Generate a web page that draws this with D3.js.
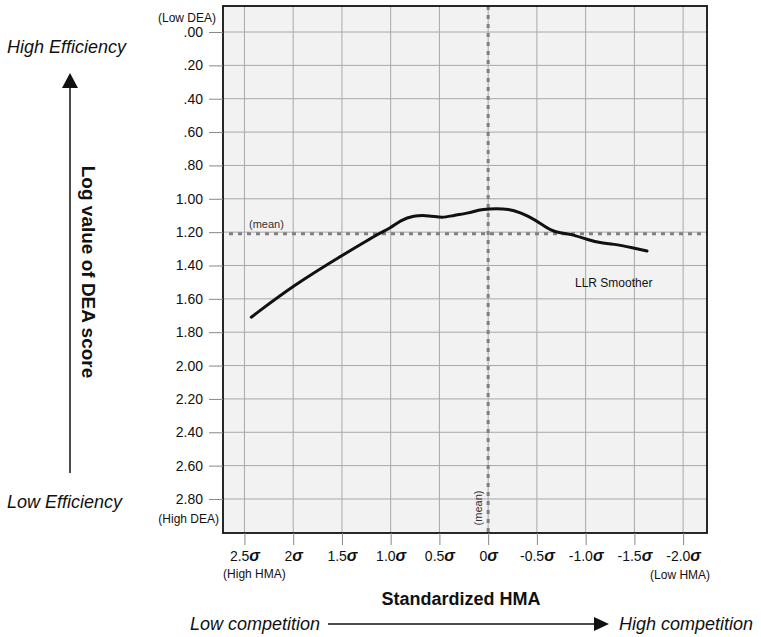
<!DOCTYPE html>
<html>
<head>
<meta charset="utf-8">
<script src="https://cdn.jsdelivr.net/npm/d3@7"></script>
<style>
  body { margin: 0; background: #fff; }
  svg { display: block; font-family: "Liberation Sans", Arial, sans-serif; }
</style>
</head>
<body>
<div id="chart"></div>
<script>
// Data
const sigmaTicks = [2.5, 2, 1.5, 1.0, 0.5, 0, -0.5, -1.0, -1.5, -2.0];
const sigmaTickLabels = ['2.5', '2', '1.5', '1.0', '0.5', '0', '-0.5', '-1.0', '-1.5', '-2.0'];
const deaTicks = [0, 0.2, 0.4, 0.6, 0.8, 1.0, 1.2, 1.4, 1.6, 1.8, 2.0, 2.2, 2.4, 2.6, 2.8];
const deaTickLabels = ['.00', '.20', '.40', '.60', '.80', '1.00', '1.20', '1.40', '1.60', '1.80',
  '2.00', '2.20', '2.40', '2.60', '2.80'];

// LLR smoother
const smootherSigma = [2.43, 2.00, 1.50, 1.24, 1.11, 1.00, 0.90, 0.77, 0.60, 0.47, 0.36, 0.19, 0.10,
  0.01, -0.23, -0.33, -0.43, -0.53, -0.64, -0.74, -0.84, -1.02, -1.15, -1.28, -1.49, -1.63];
const smootherDea = [1.71, 1.52, 1.34, 1.25, 1.205, 1.175, 1.13, 1.10, 1.10, 1.115, 1.10, 1.085, 1.067,
  1.06, 1.06, 1.085, 1.11, 1.145, 1.19, 1.205, 1.21, 1.245, 1.265, 1.27, 1.295, 1.313];

const meanSigma = 0;
const meanDea = 1.21;

class SmootherChart {
  constructor (options) {
    this.width = options.width;
    this.height = options.height;
    this.elQuery = options.elQuery;
    this.plot = options.plot;

    this.xScale = d3.scaleLinear().domain([2.72, -2.245]).range([this.plot.left, this.plot.right]);
    this.yScale = d3.scaleLinear().domain([-0.156, 3.004]).range([this.plot.top, this.plot.bottom]);

    this.svgElement = this.createSvgElement();
    this.createBackground();
    this.createGrid();
    this.createMeanLines();
    this.createSmootherLine();
    this.createFrame();
    this.createYAxisElement();
    this.createXAxisElement();
    this.createLabels();
  }

  createSvgElement () {
    return d3
      .select(this.elQuery)
      .append('svg')
      .attr('width', this.width)
      .attr('height', this.height);
  }

  createBackground () {
    this.svgElement
      .append('rect')
      .attr('x', this.plot.left)
      .attr('y', this.plot.top)
      .attr('width', this.plot.right - this.plot.left)
      .attr('height', this.plot.bottom - this.plot.top)
      .attr('fill', '#f2f2f2');
  }

  createGrid () {
    const grid = this.svgElement.append('g').attr('class', 'grid')
      .attr('stroke', '#a8a8a8')
      .attr('stroke-width', 1);

    grid.selectAll('line.v')
      .data(sigmaTicks)
      .enter()
        .append('line')
        .attr('class', 'v')
        .attr('x1', d => this.xScale(d))
        .attr('x2', d => this.xScale(d))
        .attr('y1', this.plot.top)
        .attr('y2', this.plot.bottom);

    grid.selectAll('line.h')
      .data(deaTicks)
      .enter()
        .append('line')
        .attr('class', 'h')
        .attr('x1', this.plot.left)
        .attr('x2', this.plot.right)
        .attr('y1', d => this.yScale(d))
        .attr('y2', d => this.yScale(d));
  }

  createMeanLines () {
    const g = this.svgElement.append('g').attr('class', 'mean')
      .attr('stroke', '#808080')
      .attr('stroke-width', 3)
      .attr('stroke-dasharray', '4,5');

    g.append('line')
      .attr('x1', this.plot.left + 6)
      .attr('x2', this.plot.right)
      .attr('y1', this.yScale(meanDea))
      .attr('y2', this.yScale(meanDea));

    g.append('line')
      .attr('x1', this.xScale(meanSigma))
      .attr('x2', this.xScale(meanSigma))
      .attr('y1', this.plot.top)
      .attr('y2', this.plot.bottom);
  }

  createSmootherLine () {
    const points = smootherSigma.map((s, i) => [this.xScale(s), this.yScale(smootherDea[i])]);
    this.svgElement
      .append('path')
      .attr('class', 'smoother')
      .attr('d', d3.line().curve(d3.curveBasis)(points))
      .attr('fill', 'none')
      .attr('stroke', '#111')
      .attr('stroke-width', 3)
      .attr('stroke-linecap', 'round');
  }

  createFrame () {
    this.svgElement
      .append('rect')
      .attr('x', this.plot.left)
      .attr('y', this.plot.top)
      .attr('width', this.plot.right - this.plot.left)
      .attr('height', this.plot.bottom - this.plot.top)
      .attr('fill', 'none')
      .attr('stroke', '#111')
      .attr('stroke-width', 1.8);
  }

  createYAxisElement () {
    const axis = d3.axisLeft(this.yScale)
      .tickValues(deaTicks)
      .tickFormat((d, i) => deaTickLabels[i])
      .tickSize(14)
      .tickPadding(6);

    const g = this.svgElement
      .append('g')
        .attr('class', 'axis_y')
        .attr('transform', `translate(${this.plot.left},0)`)
        .call(axis);
    g.select('.domain').remove();
    g.selectAll('line').attr('stroke', '#888');
    g.selectAll('text')
      .attr('font-size', 14)
      .attr('font-family', null)
      .attr('fill', '#111');
  }

  createXAxisElement () {
    const axis = d3.axisBottom(this.xScale)
      .tickValues(sigmaTicks)
      .tickFormat((d, i) => sigmaTickLabels[i])
      .tickSize(12)
      .tickPadding(6);

    const g = this.svgElement
      .append('g')
        .attr('class', 'axis_x')
        .attr('transform', `translate(0,${this.plot.bottom})`)
        .call(axis);
    g.select('.domain').remove();
    g.selectAll('line').attr('stroke', '#888');
    g.selectAll('text')
      .attr('font-size', 14)
      .attr('font-family', null)
      .attr('fill', '#111')
      .append('tspan')
        .attr('font-style', 'italic')
        .attr('font-weight', 'bold')
        .attr('font-size', 16)
        .text('σ');
  }

  addText (x, y, str, attrs) {
    const t = this.svgElement.append('text')
      .attr('x', x)
      .attr('y', y)
      .attr('fill', '#111')
      .text(str);
    Object.entries(attrs || {}).forEach(([k, v]) => t.attr(k, v));
    return t;
  }

  createLabels () {
    const p = this.plot;
    const my = this.yScale(meanDea);
    const mx = this.xScale(meanSigma);

    // mean labels
    this.addText(p.left + 26, my - 6, '(mean)', { 'font-size': 11, fill: '#333' });
    this.addText(0, 0, '(mean)', {
      'font-size': 11, fill: '#333', 'text-anchor': 'middle', 'dominant-baseline': 'central',
      transform: `translate(${mx - 10.5},${p.bottom - 25}) rotate(-90)`
    });

    this.addText(575, 287, 'LLR Smoother', { 'font-size': 12 });

    // axis end notes
    this.addText(p.left - 7, 22, '(Low DEA)', { 'font-size': 12, 'text-anchor': 'end' });
    this.addText(p.left - 4, 523, '(High DEA)', { 'font-size': 12, 'text-anchor': 'end' });
    this.addText(this.xScale(2.5) + 10, 578, '(High HMA)', { 'font-size': 12, 'text-anchor': 'middle' });
    this.addText(this.xScale(-2.0) - 3, 579, '(Low HMA)', { 'font-size': 12, 'text-anchor': 'middle' });

    // y side
    this.addText(7, 53, 'High Efficiency', { 'font-size': 18, 'font-style': 'italic' });
    this.addText(7, 508, 'Low Efficiency', { 'font-size': 18, 'font-style': 'italic' });
    this.svgElement.append('line')
      .attr('x1', 70).attr('x2', 70)
      .attr('y1', 473).attr('y2', 86)
      .attr('stroke', '#111').attr('stroke-width', 1.5);
    this.svgElement.append('path')
      .attr('d', 'M70,73L62,88L78,88Z')
      .attr('fill', '#111');
    this.addText(0, 0, 'Log value of DEA score', {
      'font-size': 19, 'font-weight': 'bold', 'text-anchor': 'middle', 'dominant-baseline': 'central',
      transform: 'translate(88,272) rotate(90)'
    });

    // x side
    this.addText(461, 605, 'Standardized HMA', { 'font-size': 18, 'font-weight': 'bold', 'text-anchor': 'middle' });
    this.addText(320, 630, 'Low competition', { 'font-size': 18, 'font-style': 'italic', 'text-anchor': 'end' });
    this.addText(619, 630, 'High competition', { 'font-size': 18, 'font-style': 'italic' });
    this.svgElement.append('line')
      .attr('x1', 328).attr('x2', 596)
      .attr('y1', 624).attr('y2', 624)
      .attr('stroke', '#111').attr('stroke-width', 1.5);
    this.svgElement.append('path')
      .attr('d', 'M609,624L594,617L594,631Z')
      .attr('fill', '#111');
  }
}

new SmootherChart({
  width: 761,
  height: 637,
  elQuery: '#chart',
  plot: { left: 223, right: 707, top: 6, bottom: 533 }
});
</script>
</body>
</html>
